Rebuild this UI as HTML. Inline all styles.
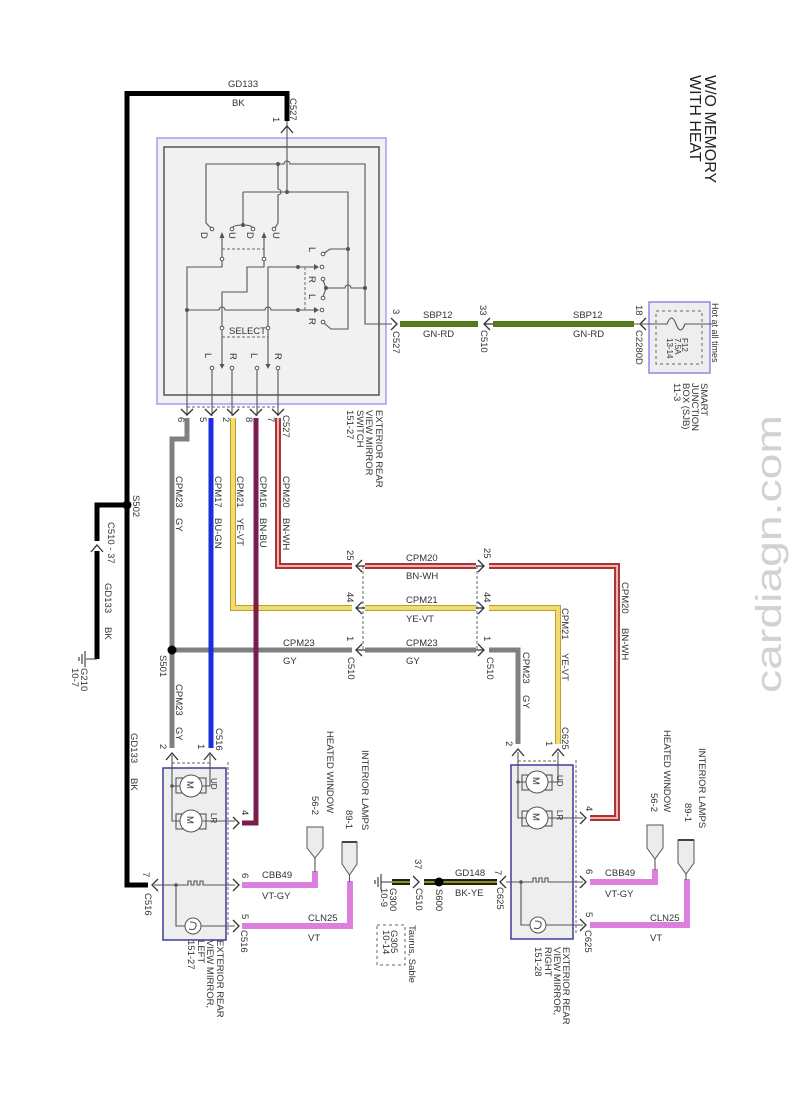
<!DOCTYPE html>
<html><head><meta charset="utf-8"><style>
html,body{margin:0;padding:0;background:#fff;}
svg{display:block}
text{font-family:"Liberation Sans",Arial,sans-serif;font-size:9.5px;fill:#333}
.t{stroke:#555;stroke-width:1.1;fill:none}
.c{stroke:#333;stroke-width:1.3;fill:none}
.d{stroke:#666;stroke-width:1;fill:none;stroke-dasharray:3 2}
.w{fill:none;stroke-linejoin:miter;stroke-linecap:butt}
.o{fill:#fff;stroke:#555;stroke-width:1}
.s{font-size:8px}
</style></head><body>
<svg width="793" height="1104" viewBox="0 0 793 1104" xmlns="http://www.w3.org/2000/svg">
<rect width="793" height="1104" fill="#fff"/>

<!-- watermark -->
<text transform="translate(781 693) rotate(-90)" textLength="278" lengthAdjust="spacingAndGlyphs" style="font-size:36px;fill:#d2d2d2">cardiagn.com</text>

<!-- title -->
<text transform="translate(705 75) rotate(90)" style="font-size:16px;fill:#222">W/O MEMORY</text>
<text transform="translate(690 75) rotate(90)" style="font-size:16px;fill:#222">WITH HEAT</text>

<!-- ===== SWITCH BOX ===== -->
<rect x="157" y="138" width="229" height="266" fill="#f1f1f1" stroke="#a0a0ee" stroke-width="1.5"/>
<rect x="164" y="147" width="215" height="248" fill="none" stroke="#555" stroke-width="1.5"/>

<g class="t">
<path d="M287,121 L287,192"/>
<path d="M211,228 L206,223 L206,164 L284,164 A3,3 0 0 1 290,164 L365,164 L365,324 L392,324"/>
<path d="M278,164 L278,189 A3,3 0 0 1 278,195 L278,223 L275,228"/>
<path d="M243,192 L348,192 L348,329 L331,329 L324,323"/>
<path d="M348,249 L330,249 L323,254"/>
<path d="M243,192 L243,225"/>
<path d="M232,229 Q232,225 243,225 Q253,225 253,229"/>
<path d="M222,236 L222,258"/>
<path d="M264,236 L264,258"/>
<path d="M222,261 L222,267 L187,267 L187,416"/>
<path d="M264,261 L264,267 L247,267 L247,292 L222,292 L222,364"/>
<path d="M268,364 L268,267 L315,267"/>
<path d="M187,310 L219,310 A3,3 0 0 1 225,310 L265,310 A3,3 0 0 1 271,310 L315,310"/>
<path d="M323,280 L326,288 L323,297"/>
<path d="M326,288 L345,288 A3,3 0 0 1 351,288 L365,288"/>
<path d="M212,370 L212,416 M232,370 L232,416 M257,370 L257,416 M278,370 L278,416"/>
</g>
<g fill="#555">
<polygon points="219.5,238 224.5,238 222,232"/>
<polygon points="261.5,238 266.5,238 264,232"/>
<polygon points="314,264 314,270 319,267"/>
<polygon points="314,307 314,313 319,310"/>
<polygon points="219.5,364 224.5,364 222,369"/>
<polygon points="265.5,364 270.5,364 268,369"/>
<circle cx="287" cy="192" r="2"/><circle cx="278" cy="164" r="2"/><circle cx="243" cy="225" r="2"/>
<circle cx="348" cy="249" r="2"/><circle cx="365" cy="288" r="2"/><circle cx="326" cy="288" r="2"/>
<circle cx="187" cy="310" r="2"/><circle cx="298" cy="267" r="2"/><circle cx="298" cy="310" r="2"/>
</g>
<g class="o">
<circle cx="212" cy="229" r="1.8"/><circle cx="232" cy="229" r="1.8"/><circle cx="253" cy="229" r="1.8"/><circle cx="274" cy="229" r="1.8"/>
<circle cx="222" cy="259" r="1.8"/><circle cx="264" cy="259" r="1.8"/>
<circle cx="323" cy="254" r="1.8"/><circle cx="323" cy="279" r="1.8"/><circle cx="323" cy="298" r="1.8"/><circle cx="323" cy="322" r="1.8"/>
<circle cx="322" cy="267" r="1.8"/><circle cx="322" cy="310" r="1.8"/>
<circle cx="222" cy="328" r="1.8"/><circle cx="268" cy="328" r="1.8"/>
<circle cx="212" cy="368" r="1.8"/><circle cx="232" cy="368" r="1.8"/><circle cx="257" cy="368" r="1.8"/><circle cx="278" cy="368" r="1.8"/>
</g>
<path class="d" d="M222,249 L264,249"/>
<path class="d" d="M305,267 L305,310"/>
<path class="d" d="M222,337 L268,337"/>
<path class="d" d="M187,407 L278,407"/>
<text x="229" y="334">SELECT</text>
<g class="s">
<text transform="translate(201 232) rotate(90)">D</text>
<text transform="translate(229 232) rotate(90)">U</text>
<text transform="translate(247 232) rotate(90)">D</text>
<text transform="translate(273 232) rotate(90)">U</text>
<text transform="translate(309 247) rotate(90)">L</text>
<text transform="translate(309 276) rotate(90)">R</text>
<text transform="translate(309 294) rotate(90)">L</text>
<text transform="translate(309 318) rotate(90)">R</text>
<text transform="translate(205 353) rotate(90)">L</text>
<text transform="translate(230 353) rotate(90)">R</text>
<text transform="translate(251 353) rotate(90)">L</text>
<text transform="translate(275 353) rotate(90)">R</text>
</g>

<!-- switch pins -->
<g class="c">
<path d="M281,133 L287,126 L293,133"/>
<path d="M181,409 L187,415 L193,409 M205,409 L211,415 L217,409 M227,409 L233,415 L239,409 M250,409 L256,415 L262,409 M272,409 L278,415 L284,409"/>
</g>
<text transform="translate(273 117) rotate(90)">1</text>
<text transform="translate(290 98) rotate(90)">C527</text>
<text transform="translate(178 417) rotate(90)">6</text>
<text transform="translate(200 417) rotate(90)">5</text>
<text transform="translate(223 417) rotate(90)">2</text>
<text transform="translate(246 417) rotate(90)">8</text>
<text transform="translate(268 417) rotate(90)">7</text>
<text transform="translate(283 415) rotate(90)">C527</text>
<text transform="translate(376 410) rotate(90)">EXTERIOR REAR</text>
<text transform="translate(366 410) rotate(90)">VIEW MIRROR</text>
<text transform="translate(357 410) rotate(90)">SWITCH</text>
<text transform="translate(347 410) rotate(90)">151-27</text>

<!-- ===== WIRES ===== -->
<!-- black -->
<path class="w" d="M148,885 L127,885 L127,93.5 L287,93.5 L287,121" stroke="#000" stroke-width="5"/>
<path class="w" d="M127,505 L97,505 L97,541" stroke="#000" stroke-width="5"/>
<path class="w" d="M97,551 L97,659" stroke="#000" stroke-width="5"/>
<path class="t" d="M97,659 L86,659 M85,651 L85,667 M82,654 L82,664 M79,657 L79,661" style="stroke:#333"/>
<path class="c" d="M91,552 L97,545 L103,552"/>
<!-- gray -->
<g stroke="#808080" stroke-width="5" class="w">
<path d="M187,418 L187,439 L172,439 L172,748"/>
<path d="M172,650 L352,650"/>
<path d="M365,650 L476,650"/>
<path d="M489,650 L518,650 L518,744"/>
</g>
<!-- yellow -->
<g class="w">
<path d="M233,418 L233,608 L352,608 M365,608 L476,608 M489,608 L558,608 L558,744" stroke="#b89e38" stroke-width="6"/>
<path d="M233,418 L233,608 L352,608 M365,608 L476,608 M489,608 L558,608 L558,744" stroke="#f3dc6c" stroke-width="4"/>
</g>
<!-- red -->
<g class="w">
<path d="M278,418 L278,566 L352,566 M365,566 L476,566 M489,566 L617,566 L617,818 L590,818" stroke="#ab3535" stroke-width="6"/>
<path d="M278,418 L278,566 L352,566 M365,566 L476,566 M489,566 L617,566 L617,818 L590,818" stroke="#efb2b2" stroke-width="2"/>
</g>
<!-- blue / purple -->
<path class="w" d="M211,418 L211,748" stroke="#1a2ee0" stroke-width="5"/>
<path class="w" d="M256,418 L256,823 L242,823" stroke="#7a1c4c" stroke-width="5"/>
<!-- green -->
<g class="w">
<path d="M400,324 L478,324 M493,324 L634,324" stroke="#4a7d1a" stroke-width="6"/>
<path d="M400,324 L478,324 M493,324 L634,324" stroke="#8a6a2a" stroke-width="1"/>
</g>
<!-- pink -->
<g class="w" stroke="#dd80dd" stroke-width="6">
<path d="M242,885 L315,885 L315,871"/>
<path d="M242,926 L350,926 L350,881"/>
<path d="M590,882 L655,882 L655,869"/>
<path d="M590,925 L687,925 L687,879"/>
</g>
<!-- BK-YE -->
<g class="w">
<path d="M392,882 L410,882 M424,882 L497,882" stroke="#222210" stroke-width="6"/>
<path d="M392,882 L410,882 M424,882 L497,882" stroke="#8c8c28" stroke-width="2"/>
</g>

<!-- splices -->
<circle cx="172" cy="650" r="4.5" fill="#000"/>
<circle cx="127" cy="505" r="4.5" fill="#000"/>
<circle cx="439" cy="882" r="4.5" fill="#000"/>

<!-- C510 middle connectors -->
<path class="d" d="M363,566 L363,650 M477,566 L477,650"/>
<g class="c">
<path d="M362,560 L356,566 L362,572 M356,566 L365,566"/>
<path d="M362,602 L356,608 L362,614 M356,608 L365,608"/>
<path d="M362,644 L356,650 L362,656 M356,650 L365,650"/>
<path d="M478,560 L484,566 L478,572 M476,566 L484,566"/>
<path d="M478,602 L484,608 L478,614 M476,608 L484,608"/>
<path d="M478,644 L484,650 L478,656 M476,650 L484,650"/>
</g>
<text transform="translate(347 550) rotate(90)">25</text>
<text transform="translate(347 592) rotate(90)">44</text>
<text transform="translate(347 636) rotate(90)">1</text>
<text transform="translate(348 657) rotate(90)">C510</text>
<text transform="translate(484 548) rotate(90)">25</text>
<text transform="translate(484 592) rotate(90)">44</text>
<text transform="translate(484 636) rotate(90)">1</text>
<text transform="translate(487 657) rotate(90)">C510</text>
<text x="406" y="561">CPM20</text>
<text x="406" y="579">BN-WH</text>
<text x="406" y="603">CPM21</text>
<text x="406" y="622">YE-VT</text>
<text x="406" y="646">CPM23</text>
<text x="406" y="664">GY</text>
<text x="283" y="646">CPM23</text>
<text x="283" y="664">GY</text>

<!-- vertical wire labels -->
<text transform="translate(176 476) rotate(90)">CPM23</text>
<text transform="translate(176 518) rotate(90)">GY</text>
<text transform="translate(215 476) rotate(90)">CPM17</text>
<text transform="translate(215 518) rotate(90)">BU-GN</text>
<text transform="translate(237 476) rotate(90)">CPM21</text>
<text transform="translate(237 518) rotate(90)">YE-VT</text>
<text transform="translate(260 476) rotate(90)">CPM16</text>
<text transform="translate(260 518) rotate(90)">BN-BU</text>
<text transform="translate(283 476) rotate(90)">CPM20</text>
<text transform="translate(283 518) rotate(90)">BN-WH</text>
<text transform="translate(160 655) rotate(90)">S501</text>
<text transform="translate(176 684) rotate(90)">CPM23</text>
<text transform="translate(176 727) rotate(90)">GY</text>
<text transform="translate(622 582) rotate(90)">CPM20</text>
<text transform="translate(622 628) rotate(90)">BN-WH</text>
<text transform="translate(562 608) rotate(90)">CPM21</text>
<text transform="translate(562 653) rotate(90)">YE-VT</text>
<text transform="translate(523 652) rotate(90)">CPM23</text>
<text transform="translate(523 695) rotate(90)">GY</text>
<text transform="translate(133 495) rotate(90)">S502</text>
<text transform="translate(108 522) rotate(90)">C510 - 37</text>
<text transform="translate(105 583) rotate(90)">GD133</text>
<text transform="translate(105 627) rotate(90)">BK</text>
<text transform="translate(81 668) rotate(90)">G210</text>
<text transform="translate(72 668) rotate(90)">10-7</text>
<text transform="translate(131 733) rotate(90)">GD133</text>
<text transform="translate(131 778) rotate(90)">BK</text>
<text x="228" y="87">GD133</text>
<text x="232" y="106">BK</text>

<!-- ===== SBP12 / SJB ===== -->
<g class="c">
<path d="M391,318 L397,324 L391,330"/>
<path d="M490,318 L484,324 L490,330 M484,324 L493,324"/>
<path d="M646,318 L640,324 L646,330"/>
</g>
<rect x="649" y="302" width="61" height="71" fill="#eeeeee" stroke="#8c8ce6" stroke-width="1.5"/>
<rect x="656" y="311" width="46" height="53" fill="none" stroke="#666" stroke-width="1" stroke-dasharray="3 3"/>
<path class="t" d="M634,324 L667,324 C670,316 673,316 676,324 C679,332 682,332 685,324 L712,324"/>
<text transform="translate(682 338) rotate(90)" class="s">F12</text>
<text transform="translate(675 338) rotate(90)" class="s">7.5A</text>
<text transform="translate(667 338) rotate(90)" class="s">13-14</text>
<text transform="translate(712 303) rotate(90)" style="font-size:9px">Hot at all times</text>
<text transform="translate(701 383) rotate(90)">SMART</text>
<text transform="translate(692 383) rotate(90)">JUNCTION</text>
<text transform="translate(683 383) rotate(90)">BOX (SJB)</text>
<text transform="translate(674 383) rotate(90)">11-3</text>
<text x="423" y="318">SBP12</text>
<text x="423" y="337">GN-RD</text>
<text x="573" y="318">SBP12</text>
<text x="573" y="337">GN-RD</text>
<text transform="translate(393 309) rotate(90)">3</text>
<text transform="translate(393 331) rotate(90)">C527</text>
<text transform="translate(480 305) rotate(90)">33</text>
<text transform="translate(481 330) rotate(90)">C510</text>
<text transform="translate(636 305) rotate(90)">18</text>
<text transform="translate(636 330) rotate(90)">C2280D</text>

<!-- ===== LEFT MIRROR ===== -->
<rect x="163" y="768" width="63" height="172" fill="#eeeeee" stroke="#3d3d9d" stroke-width="1.5"/>
<path class="d" d="M228,762 L228,936 M172,763 L210,763"/>
<g class="t">
<path d="M172,755 L172,821 L180,821 M172,786 L180,786"/>
<path d="M210,755 L210,786 L202,786"/>
<path d="M202,821 L235,821"/>
<path d="M154,885 L188,885 L188,881 L191,881 L191,885 L194,885 L194,881 L197,881 L197,885 L200,885 L200,881 L203,881 L203,885 L235,885"/>
<path d="M176,885 L176,926 L185,926 M201,926 L235,926"/>
<rect x="176" y="778" width="30" height="15"/>
<rect x="176" y="814" width="30" height="15"/>
</g>
<circle cx="191" cy="786" r="11" class="o"/>
<circle cx="191" cy="821" r="11" class="o"/>
<circle cx="193" cy="926" r="8" class="o"/>
<path class="t" d="M190,922 Q197,922 196,926 Q195,931 189,929"/>
<circle cx="172" cy="786" r="1.8" fill="#555"/>
<circle cx="176" cy="885" r="1.8" fill="#555"/>
<text transform="translate(187 781) rotate(90)">M</text>
<text transform="translate(187 816) rotate(90)">M</text>
<text transform="translate(211 778) rotate(90)" class="s">UD</text>
<text transform="translate(211 813) rotate(90)" class="s">LR</text>
<g class="c">
<path d="M166,760 L172,753 L178,760 M204,760 L210,753 L216,760"/>
<path d="M158,879 L152,885 L158,891"/>
<path d="M233,817 L239,823 L233,829 M233,879 L239,885 L233,891 M233,920 L239,926 L233,932"/>
</g>
<text transform="translate(160 744) rotate(90)">2</text>
<text transform="translate(198 744) rotate(90)">1</text>
<text transform="translate(216 728) rotate(90)">C516</text>
<text transform="translate(143 872) rotate(90)">7</text>
<text transform="translate(145 893) rotate(90)">C516</text>
<text transform="translate(242 810) rotate(90)">4</text>
<text transform="translate(242 873) rotate(90)">6</text>
<text transform="translate(242 914) rotate(90)">5</text>
<text transform="translate(241 930) rotate(90)">C516</text>
<polygon points="307,827 323,827 323,848 315,858 307,848" fill="#ececec" stroke="#555"/>
<path class="t" d="M315,858 L315,872"/>
<polygon points="342,842 357,842 357,864 349.5,875 342,864" fill="#ececec" stroke="#555"/>
<path d="M342,842 L357,842" stroke="#444" stroke-width="2"/>
<path class="t" d="M349.5,875 L349.5,882"/>
<text x="262" y="878">CBB49</text>
<text x="262" y="899">VT-GY</text>
<text x="308" y="921">CLN25</text>
<text x="308" y="941">VT</text>
<text transform="translate(327 731) rotate(90)">HEATED WINDOW</text>
<text transform="translate(312 796) rotate(90)">56-2</text>
<text transform="translate(362 750) rotate(90)">INTERIOR LAMPS</text>
<text transform="translate(346 810) rotate(90)">89-1</text>
<text transform="translate(217 940) rotate(90)">EXTERIOR REAR</text>
<text transform="translate(207 940) rotate(90)">VIEW MIRROR,</text>
<text transform="translate(198 940) rotate(90)">LEFT</text>
<text transform="translate(188 940) rotate(90)">151-27</text>

<!-- ===== RIGHT MIRROR ===== -->
<rect x="511" y="765" width="62" height="174" fill="#eeeeee" stroke="#3d3d9d" stroke-width="1.5"/>
<path class="d" d="M576,760 L576,934 M518,761 L558,761"/>
<g class="t">
<path d="M518,752 L518,818 L526,818 M518,782 L526,782"/>
<path d="M558,752 L558,782 L548,782"/>
<path d="M548,818 L583,818"/>
<path d="M506,882 L533,882 L533,878 L536,878 L536,882 L539,882 L539,878 L542,878 L542,882 L545,882 L545,878 L548,878 L548,882 L583,882"/>
<path d="M521,882 L521,925 L530,925 M546,925 L583,925"/>
<rect x="522" y="775" width="30" height="15"/>
<rect x="522" y="811" width="30" height="15"/>
</g>
<circle cx="537" cy="782" r="11" class="o"/>
<circle cx="537" cy="818" r="11" class="o"/>
<circle cx="538" cy="925" r="8" class="o"/>
<path class="t" d="M535,921 Q542,921 541,925 Q540,930 534,928"/>
<circle cx="518" cy="782" r="1.8" fill="#555"/>
<circle cx="521" cy="882" r="1.8" fill="#555"/>
<text transform="translate(533 777) rotate(90)">M</text>
<text transform="translate(533 813) rotate(90)">M</text>
<text transform="translate(557 775) rotate(90)" class="s">UD</text>
<text transform="translate(557 810) rotate(90)" class="s">LR</text>
<g class="c">
<path d="M512,756 L518,749 L524,756 M552,756 L558,749 L564,756"/>
<path d="M506,876 L500,882 L506,888"/>
<path d="M580,812 L586,818 L580,824 M580,876 L586,882 L580,888 M580,919 L586,925 L580,931"/>
<path d="M413,876 L419,882 L413,888"/>
</g>
<path class="t" d="M381,882 L392,882 M381,874 L381,890 M378,877 L378,887 M375,880 L375,884" style="stroke:#333"/>
<text transform="translate(506 741) rotate(90)">2</text>
<text transform="translate(546 741) rotate(90)">1</text>
<text transform="translate(562 727) rotate(90)">C625</text>
<text transform="translate(495 870) rotate(90)">7</text>
<text transform="translate(497 887) rotate(90)">C625</text>
<text transform="translate(586 806) rotate(90)">4</text>
<text transform="translate(586 869) rotate(90)">6</text>
<text transform="translate(586 912) rotate(90)">5</text>
<text transform="translate(585 930) rotate(90)">C625</text>
<polygon points="647,825 663,825 663,848 655,859 647,848" fill="#ececec" stroke="#555"/>
<path class="t" d="M655,859 L655,870"/>
<polygon points="678,840 694,840 694,863 686,874 678,863" fill="#ececec" stroke="#555"/>
<path d="M678,840 L694,840" stroke="#444" stroke-width="2"/>
<path class="t" d="M686,874 L686,880"/>
<text x="605" y="876">CBB49</text>
<text x="605" y="897">VT-GY</text>
<text x="650" y="921">CLN25</text>
<text x="650" y="941">VT</text>
<text transform="translate(664 730) rotate(90)">HEATED WINDOW</text>
<text transform="translate(651 793) rotate(90)">56-2</text>
<text transform="translate(699 748) rotate(90)">INTERIOR LAMPS</text>
<text transform="translate(685 803) rotate(90)">89-1</text>
<text transform="translate(563 947) rotate(90)">EXTERIOR REAR</text>
<text transform="translate(554 947) rotate(90)">VIEW MIRROR,</text>
<text transform="translate(545 947) rotate(90)">RIGHT</text>
<text transform="translate(535 947) rotate(90)">151-28</text>

<!-- ground side labels -->
<text x="455" y="876">GD148</text>
<text x="455" y="896">BK-YE</text>
<text transform="translate(415 859) rotate(90)">37</text>
<text transform="translate(416 888) rotate(90)">C510</text>
<text transform="translate(436 889) rotate(90)">S600</text>
<text transform="translate(390 888) rotate(90)">G300</text>
<text transform="translate(381 888) rotate(90)">10-9</text>
<rect x="377" y="925" width="28" height="40" fill="none" stroke="#666" stroke-dasharray="3 3"/>
<text transform="translate(391 930) rotate(90)">G305</text>
<text transform="translate(383 930) rotate(90)">10-14</text>
<text transform="translate(409 925) rotate(90)">Taurus, Sable</text>
</svg>
</body></html>
